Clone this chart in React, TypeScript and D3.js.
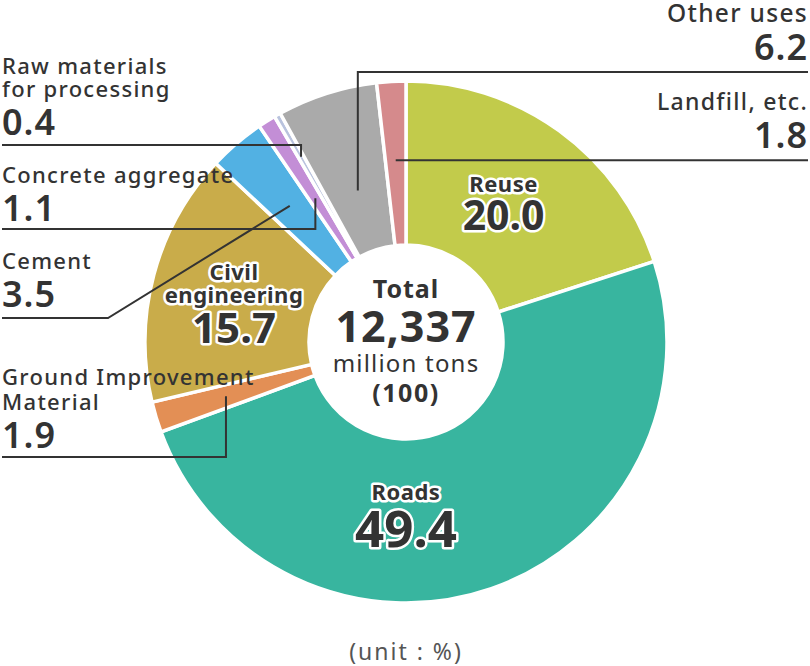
import React from "react";
import * as d3 from "d3";

const categories = [
  "Reuse",
  "Roads",
  "Ground Improvement Material",
  "Civil engineering",
  "Cement",
  "Concrete aggregate",
  "Raw materials for processing",
  "Other uses",
  "Landfill, etc.",
];
const values = [20.0, 49.4, 1.9, 15.7, 3.5, 1.1, 0.4, 6.2, 1.8];
const valueLabels = ["20.0", "49.4", "1.9", "15.7", "3.5", "1.1", "0.4", "6.2", "1.8"];
const colors = [
  "#c2cb4b",
  "#38b59f",
  "#e38f55",
  "#c9ac4a",
  "#52b1e3",
  "#c38ed6",
  "#b9c3de",
  "#aaaaaa",
  "#d58a8c",
];
const totalLabel = "Total";
const totalValue = "12,337";
const totalUnit = "million tons";
const totalPct = "(100)";
const unitNote = "(unit : %)";

const W = 810;
const H = 666;
const cx = 406;
const cy = 342;
const rOuter = 261;
const rInner = 97;
const INK = "#333333";
const FONT = "'Noto Sans', 'DejaVu Sans', sans-serif";

// inside labels (index -> layout): name lines offsets and number offset relative to anchor point
const insideLabels: Record<
  number,
  { lines: string[]; r: number; angle?: number; lineDy: number[]; numDy: number; nameSize: number; numSize: number }
> = {
  0: { lines: ["Reuse"], r: 166, lineDy: [-16], numDy: 22, nameSize: 22, numSize: 41 },
  1: { lines: ["Roads"], r: 178, angle: Math.PI, lineDy: [-20], numDy: 27, nameSize: 22, numSize: 51 },
  3: { lines: ["Civil", "engineering"], r: 178, lineDy: [-16, 7], numDy: 47, nameSize: 22, numSize: 42 },
};

// outside labels
const outsideLabels: Record<
  number,
  {
    side: "left" | "right";
    lines: string[];
    textY: number;
    gap: number;
    lineY: number;
    r: number;
    size: number;
    diag?: number;
  }
> = {
  6: { side: "left", lines: ["Raw materials", "for processing"], textY: 74, gap: 23, lineY: 145, r: 213, size: 22 },
  5: { side: "left", lines: ["Concrete aggregate"], textY: 183, gap: 23, lineY: 229, r: 170, size: 22 },
  4: { side: "left", lines: ["Cement"], textY: 269, gap: 23, lineY: 318, r: 179, size: 22, diag: 108 },
  2: { side: "left", lines: ["Ground Improvement", "Material"], textY: 385, gap: 25, lineY: 457, r: 188, size: 22 },
  7: { side: "right", lines: ["Other uses"], textY: 22, gap: 23, lineY: 72, r: 159, size: 24.5 },
  8: { side: "right", lines: ["Landfill, etc."], textY: 110, gap: 23, lineY: 160, r: 182, size: 23 },
};

export default function App() {
  const pie = d3
    .pie<number>()
    .sort(null)
    .value((d) => d);
  const arcs = pie(values);
  const arcGen = d3
    .arc<d3.PieArcDatum<number>>()
    .innerRadius(rInner)
    .outerRadius(rOuter);

  const pt = (angle: number, r: number) => [cx + r * Math.sin(angle), cy - r * Math.cos(angle)];
  const halo = { stroke: "#fff", strokeWidth: 5, paintOrder: "stroke" as const, strokeLinejoin: "round" as const };

  return (
    <svg
      width={W}
      height={H}
      viewBox={`0 0 ${W} ${H}`}
      style={{ position: "absolute", left: 0, top: 0, fontFamily: FONT }}
    >
      <rect width={W} height={H} fill="#fff" />
      <g transform={`translate(${cx},${cy})`}>
        {arcs.map((a, i) => (
          <path key={i} d={arcGen(a) || ""} fill={colors[i]} stroke="#fff" strokeWidth={3.5} strokeLinejoin="miter" />
        ))}
        <circle r={rInner} fill="#fff" />
      </g>

      {/* leader lines + outside labels */}
      {arcs.map((a, i) => {
        const lab = outsideLabels[i];
        if (!lab) return null;
        const mid = (a.startAngle + a.endAngle) / 2;
        const [ax, ay] = pt(mid, lab.r);
        let d: string;
        if (lab.side === "left") {
          if (lab.diag !== undefined) d = `M2,${lab.lineY}H${lab.diag}L${ax},${ay}`;
          else d = `M2,${lab.lineY}H${ax}V${ay}`;
        } else {
          if (Math.abs(ay - lab.lineY) > 5) d = `M808,${lab.lineY}H${ax}V${ay}`;
          else d = `M808,${ay}H${ax}`;
        }
        const x = lab.side === "left" ? 2 : 808;
        const anchor = lab.side === "left" ? "start" : "end";
        return (
          <g key={"o" + i}>
            <path d={d} fill="none" stroke={INK} strokeWidth={2} />
            {lab.lines.map((t, k) => (
              <text
                key={k}
                x={x}
                y={lab.textY + k * lab.gap}
                textAnchor={anchor}
                fontSize={lab.size}
                fontWeight={500}
                letterSpacing={1.3}
                fill={INK}
              >
                {t}
              </text>
            ))}
            <text
              x={x}
              y={lab.textY + (lab.lines.length - 1) * lab.gap + 38}
              textAnchor={anchor}
              fontSize={36}
              fontWeight={600}
              letterSpacing={1}
              fill={INK}
            >
              {valueLabels[i]}
            </text>
          </g>
        );
      })}

      {/* inside labels */}
      {arcs.map((a, i) => {
        const lab = insideLabels[i];
        if (!lab) return null;
        const ang = lab.angle !== undefined ? lab.angle : (a.startAngle + a.endAngle) / 2;
        const [lx, ly] = pt(ang, lab.r);
        return (
          <g key={"i" + i}>
            {lab.lines.map((t, k) => (
              <text
                key={k}
                x={lx}
                y={ly + lab.lineDy[k]}
                textAnchor="middle"
                fontSize={lab.nameSize}
                fontWeight={700}
                letterSpacing={0.5}
                fill={INK}
                {...halo}
              >
                {t}
              </text>
            ))}
            <text
              x={lx}
              y={ly + lab.numDy}
              textAnchor="middle"
              fontSize={lab.numSize}
              fontWeight={700}
              fill={INK}
              {...halo}
            >
              {valueLabels[i]}
            </text>
          </g>
        );
      })}

      {/* center */}
      <text x={cx} y={298} textAnchor="middle" fontSize={25} fontWeight={700} letterSpacing={1} fill={INK}>
        {totalLabel}
      </text>
      <text x={cx} y={342} textAnchor="middle" fontSize={43} fontWeight={700} letterSpacing={1} fill={INK}>
        {totalValue}
      </text>
      <text x={cx} y={372} textAnchor="middle" fontSize={24} fontWeight={400} letterSpacing={1.2} fill={INK}>
        {totalUnit}
      </text>
      <text x={cx} y={402} textAnchor="middle" fontSize={25} fontWeight={700} letterSpacing={1.5} fill={INK}>
        {totalPct}
      </text>

      <text x={cx} y={660} textAnchor="middle" fontSize={23} fontWeight={400} letterSpacing={2} fill="#555" style={{ whiteSpace: "pre" }}>
        {unitNote}
      </text>
    </svg>
  );
}
